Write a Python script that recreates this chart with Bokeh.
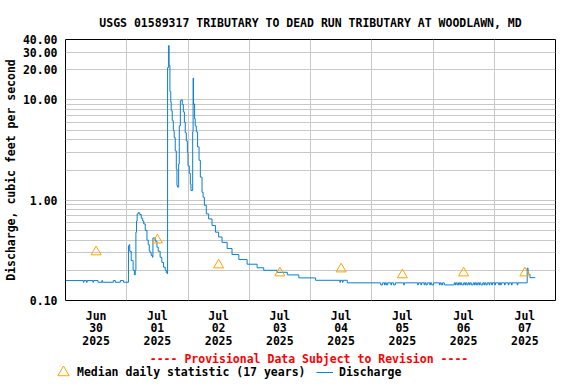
from math import pi
import pandas as pd
from bokeh.plotting import figure
from bokeh.layouts import column
from bokeh.models import (Range1d, FixedTicker, PrintfTickFormatter, Label,
                          Legend, LegendItem)
from bokeh.embed import file_html
from bokeh.resources import INLINE

# ---------------- data ----------------
discharge_time = [
    "2025-06-30 00:00", "2025-06-30 07:00", "2025-06-30 07:15", "2025-06-30 08:15",
    "2025-06-30 08:30", "2025-06-30 10:45", "2025-06-30 11:00", "2025-06-30 12:45",
    "2025-06-30 14:15", "2025-06-30 14:30", "2025-06-30 18:45", "2025-06-30 19:30",
    "2025-06-30 21:30", "2025-06-30 22:45",
    "2025-07-01 00:40", "2025-07-01 00:55", "2025-07-01 01:10", "2025-07-01 01:45",
    "2025-07-01 02:30", "2025-07-01 03:00", "2025-07-01 03:20", "2025-07-01 03:35",
    "2025-07-01 03:50", "2025-07-01 04:05", "2025-07-01 04:30", "2025-07-01 05:05",
    "2025-07-01 05:40", "2025-07-01 06:15", "2025-07-01 06:40", "2025-07-01 07:15",
    "2025-07-01 07:55", "2025-07-01 08:25", "2025-07-01 08:50", "2025-07-01 09:10",
    "2025-07-01 09:35", "2025-07-01 10:05", "2025-07-01 10:15", "2025-07-01 10:45",
    "2025-07-01 11:10", "2025-07-01 11:50", "2025-07-01 12:20", "2025-07-01 13:05",
    "2025-07-01 13:45", "2025-07-01 14:25", "2025-07-01 15:05", "2025-07-01 15:30",
    "2025-07-01 15:50", "2025-07-01 16:00", "2025-07-01 16:25", "2025-07-01 16:35",
    "2025-07-01 16:55", "2025-07-01 17:15", "2025-07-01 17:25", "2025-07-01 17:50",
    "2025-07-01 18:15", "2025-07-01 18:35", "2025-07-01 19:00", "2025-07-01 19:25",
    "2025-07-01 19:40", "2025-07-01 19:55", "2025-07-01 20:20", "2025-07-01 20:35",
    "2025-07-01 21:00", "2025-07-01 21:20", "2025-07-01 21:45", "2025-07-01 22:10",
    "2025-07-01 22:35", "2025-07-01 22:55", "2025-07-01 23:20", "2025-07-01 23:45",
    "2025-07-02 00:00", "2025-07-02 00:30", "2025-07-02 00:55", "2025-07-02 01:10",
    "2025-07-02 01:50", "2025-07-02 02:00", "2025-07-02 02:10", "2025-07-02 02:20",
    "2025-07-02 02:35", "2025-07-02 02:50", "2025-07-02 03:15", "2025-07-02 03:45",
    "2025-07-02 04:20", "2025-07-02 04:50", "2025-07-02 05:30", "2025-07-02 05:55",
    "2025-07-02 06:25", "2025-07-02 07:10", "2025-07-02 08:05", "2025-07-02 09:25",
    "2025-07-02 10:45", "2025-07-02 12:00", "2025-07-02 13:20", "2025-07-02 15:20",
    "2025-07-02 17:15", "2025-07-02 19:55", "2025-07-02 23:10",
    "2025-07-03 03:05", "2025-07-03 05:40", "2025-07-03 10:55", "2025-07-03 14:55",
    "2025-07-03 19:25",
    "2025-07-04 02:00", "2025-07-04 11:30", "2025-07-04 11:45", "2025-07-04 12:30",
    "2025-07-04 12:45", "2025-07-04 14:25",
    "2025-07-05 03:30", "2025-07-05 04:15", "2025-07-05 05:00", "2025-07-05 05:15",
    "2025-07-05 05:45", "2025-07-05 06:15", "2025-07-05 07:30", "2025-07-05 07:45",
    "2025-07-05 08:30", "2025-07-05 09:15", "2025-07-05 12:30", "2025-07-05 12:45",
    "2025-07-05 18:00", "2025-07-05 18:15", "2025-07-05 19:15", "2025-07-05 19:30",
    "2025-07-05 20:30", "2025-07-05 20:45", "2025-07-05 21:15", "2025-07-05 21:45",
    "2025-07-05 22:45", "2025-07-05 23:00", "2025-07-05 23:30",
    "2025-07-06 00:15", "2025-07-06 02:30", "2025-07-06 02:45", "2025-07-06 03:15",
    "2025-07-06 03:45", "2025-07-06 04:25", "2025-07-06 08:20", "2025-07-06 08:45",
    "2025-07-06 09:00", "2025-07-06 09:30", "2025-07-06 10:00", "2025-07-06 10:30",
    "2025-07-06 10:45", "2025-07-06 11:15", "2025-07-06 12:00", "2025-07-06 12:30",
    "2025-07-06 12:45", "2025-07-06 13:15", "2025-07-06 13:45", "2025-07-06 14:15",
    "2025-07-06 14:30", "2025-07-06 15:00", "2025-07-06 15:45", "2025-07-06 16:15",
    "2025-07-06 16:30", "2025-07-06 17:00", "2025-07-06 17:30", "2025-07-06 18:00",
    "2025-07-06 18:15", "2025-07-06 18:45", "2025-07-06 19:30", "2025-07-06 20:00",
    "2025-07-06 20:15", "2025-07-06 20:45", "2025-07-06 21:15", "2025-07-06 22:00",
    "2025-07-06 22:15", "2025-07-06 23:00", "2025-07-06 23:15",
    "2025-07-07 00:15", "2025-07-07 00:30", "2025-07-07 01:45", "2025-07-07 02:00",
    "2025-07-07 02:30", "2025-07-07 02:45", "2025-07-07 04:00", "2025-07-07 04:15",
    "2025-07-07 05:30", "2025-07-07 05:45", "2025-07-07 06:45", "2025-07-07 07:00",
    "2025-07-07 09:00", "2025-07-07 09:15", "2025-07-07 12:55", "2025-07-07 13:15",
    "2025-07-07 13:25", "2025-07-07 14:00", "2025-07-07 16:05",
]
discharge_cfs = [
    0.158, 0.152, 0.158, 0.152,
    0.158, 0.152, 0.158, 0.152,
    0.158, 0.152, 0.158, 0.152,
    0.158, 0.152,
    0.35, 0.36, 0.31, 0.25,
    0.20, 0.18, 0.20, 0.48,
    0.62, 0.73, 0.75, 0.72,
    0.66, 0.62, 0.58, 0.50,
    0.40, 0.36, 0.31, 0.30,
    0.28, 0.27, 0.42, 0.42,
    0.39, 0.34, 0.31, 0.27,
    0.24, 0.215, 0.20, 0.19,
    0.185, 21.0, 34.8, 22.0,
    12.1, 9.5, 7.8, 6.2,
    4.96, 4.2, 3.1, 2.05,
    1.4, 1.35, 2.3, 5.5,
    9.8, 10.0, 9.0, 7.6,
    6.0, 4.7, 3.9, 3.0,
    2.2, 1.85, 1.45, 1.25,
    4.8, 16.5, 9.0, 9.1,
    6.5, 5.5, 4.8, 3.4,
    2.5, 1.7, 1.2, 1.07,
    0.89, 0.73, 0.65, 0.56,
    0.48, 0.43, 0.38, 0.33,
    0.287, 0.256, 0.23,
    0.212, 0.20, 0.191, 0.18,
    0.168,
    0.159, 0.152, 0.159, 0.152,
    0.159, 0.15,
    0.143, 0.15, 0.143, 0.15,
    0.143, 0.15, 0.143, 0.15,
    0.143, 0.15, 0.143, 0.15,
    0.143, 0.15, 0.143, 0.15,
    0.143, 0.15, 0.143, 0.15,
    0.143, 0.15, 0.143,
    0.15, 0.143, 0.15, 0.143,
    0.15, 0.143, 0.15, 0.143,
    0.15, 0.143, 0.15, 0.143,
    0.15, 0.143, 0.15, 0.143,
    0.15, 0.143, 0.15, 0.143,
    0.15, 0.143, 0.15, 0.143,
    0.15, 0.143, 0.15, 0.143,
    0.15, 0.143, 0.15, 0.143,
    0.15, 0.143, 0.15, 0.143,
    0.15, 0.143, 0.15,
    0.143, 0.15, 0.143, 0.15,
    0.143, 0.15, 0.143, 0.15,
    0.143, 0.15, 0.143, 0.15,
    0.143, 0.15, 0.21, 0.19,
    0.183, 0.169, 0.169,
]

median_time = ["2025-06-30 12:00", "2025-07-01 12:00", "2025-07-02 12:00", "2025-07-03 12:00",
               "2025-07-04 12:00", "2025-07-05 12:00", "2025-07-06 12:00", "2025-07-07 12:00"]
median_cfs = [0.305, 0.40, 0.226, 0.188, 0.206, 0.18, 0.188, 0.188]

day_tick_labels = ["Jun\n30\n2025", "Jul\n01\n2025", "Jul\n02\n2025", "Jul\n03\n2025",
                   "Jul\n04\n2025", "Jul\n05\n2025", "Jul\n06\n2025", "Jul\n07\n2025"]
day_starts = ["2025-06-30", "2025-07-01", "2025-07-02", "2025-07-03", "2025-07-04",
              "2025-07-05", "2025-07-06", "2025-07-07", "2025-07-08"]
y_tick_values = [0.1, 1, 10, 20, 30, 40]
y_grid_values = [0.1, 0.2, 0.3, 0.4, 0.5, 0.6, 0.7, 0.8, 0.9,
                 1, 2, 3, 4, 5, 6, 7, 8, 9, 10, 20, 30, 40]

title_text = "USGS 01589317 TRIBUTARY TO DEAD RUN TRIBUTARY AT WOODLAWN, MD"
y_label_text = "Discharge, cubic feet per second"
provisional_text = "---- Provisional Data Subject to Revision ----"
median_label = "Median daily statistic (17 years)"
discharge_label = "Discharge"

# ---------------- helpers ----------------
def ms(s):
    return pd.Timestamp(s).value / 1e6

FONT = "DejaVu Sans Mono"
FS = "11.5px"
BLUE = "#0b7fd1"
ORANGE = "#ffa500"
GRID = "#c8c8c8"

t_dis = pd.to_datetime(discharge_time)
t_med = pd.to_datetime(median_time)

midnights = [ms(d) for d in day_starts]
noons = [ms(m) for m in median_time]

# ---------------- main chart ----------------
p = figure(width=576, height=350, x_axis_type="datetime", y_axis_type="log",
           x_range=Range1d(midnights[0], midnights[-1]), y_range=Range1d(0.1, 40),
           output_backend="svg", toolbar_location=None,
           min_border_left=65, min_border_right=21, min_border_top=39, min_border_bottom=50)
p.frame_align = False

p.background_fill_color = "white"
p.border_fill_color = "white"
p.outline_line_color = "black"
p.outline_line_width = 1

p.title.text = title_text
p.title.align = "center"
p.title.text_font = FONT
p.title.text_font_style = "bold"
p.title.text_font_size = FS
p.title.text_color = "black"
p.title.standoff = 19

p.xaxis.ticker = FixedTicker(ticks=noons)
p.xaxis.major_label_overrides = {n: lab for n, lab in zip(noons, day_tick_labels)}
p.xgrid.ticker = FixedTicker(ticks=midnights)
p.yaxis.ticker = FixedTicker(ticks=y_tick_values)
p.yaxis.formatter = PrintfTickFormatter(format="%.2f")
p.ygrid.ticker = FixedTicker(ticks=y_grid_values)

for g in (p.xgrid, p.ygrid):
    g.grid_line_color = GRID
    g.grid_line_width = 1

for ax in (p.xaxis[0], p.yaxis[0]):
    ax.axis_line_color = None
    ax.major_tick_line_color = None
    ax.minor_tick_line_color = None
    ax.major_tick_out = 0
    ax.major_tick_in = 0
    ax.minor_tick_out = 0
    ax.minor_tick_in = 0
    ax.major_label_text_font = FONT
    ax.major_label_text_font_style = "bold"
    ax.major_label_text_font_size = FS
    ax.major_label_text_color = "black"
    ax.major_label_standoff = 8
p.xaxis.major_label_text_line_height = 0.9

p.yaxis.axis_label = y_label_text
p.yaxis.axis_label_text_font = FONT
p.yaxis.axis_label_text_font_style = "bold"
p.yaxis.axis_label_text_font_size = FS
p.yaxis.axis_label_text_color = "black"
p.yaxis.axis_label_standoff = 2

r_line = p.step(x=t_dis, y=discharge_cfs, mode="after", line_color=BLUE, line_width=1)
r_med = p.scatter(x=t_med, y=median_cfs, marker="triangle", size=10,
                  line_color=ORANGE, fill_color=None, line_width=1)

# ---------------- footer strip: provisional note + legend ----------------
f = figure(width=576, height=34, x_range=Range1d(0, 1), y_range=Range1d(0, 1),
           output_backend="svg", toolbar_location=None, min_border=0,
           x_axis_location=None, y_axis_location=None)
f.frame_align = False
f.outline_line_color = None
f.background_fill_color = "white"
f.border_fill_color = "white"
f.grid.visible = False

f.add_layout(Label(x=308.5, y=26, x_units="screen", y_units="screen", text=provisional_text,
                   text_align="center", text_baseline="middle", text_font=FONT,
                   text_font_style="bold", text_font_size=FS, text_color="#ff0000"))

nan = float("nan")
k_med = f.scatter(x=[nan], y=[nan], marker="triangle", size=10,
                  line_color=ORANGE, fill_color=None, line_width=1)
k_line = f.line(x=[nan, nan], y=[nan, nan], line_color=BLUE, line_width=1)

leg_common = dict(orientation="horizontal", padding=0, margin=0, spacing=0,
                  border_line_color=None, background_fill_alpha=0,
                  label_text_font=FONT, label_text_font_style="bold",
                  label_text_font_size=FS, label_text_color="black")
leg1 = Legend(items=[LegendItem(label=median_label, renderers=[k_med])],
              location=(49, -2), glyph_width=28, glyph_height=28, label_height=28,
              label_standoff=0, **leg_common)
leg2 = Legend(items=[LegendItem(label=discharge_label, renderers=[k_line])],
              location=(316, 5), glyph_width=17, glyph_height=14, label_height=14,
              label_standoff=6, **leg_common)
f.add_layout(leg1, "center")
f.add_layout(leg2, "center")

layout = column(p, f, spacing=0)
open("out.html", "w").write(file_html(layout, INLINE))
